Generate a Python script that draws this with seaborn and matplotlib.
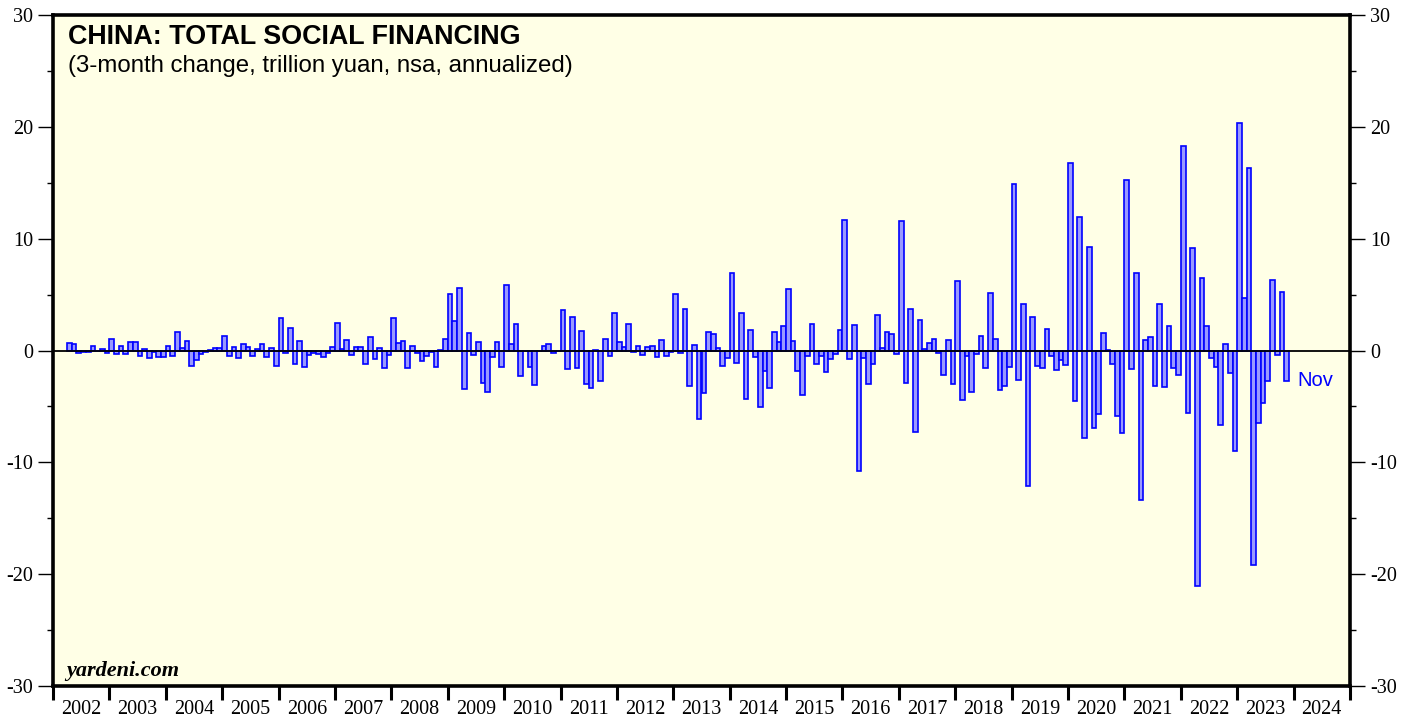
import numpy as np
import pandas as pd
import matplotlib
matplotlib.use("Agg")
import matplotlib.pyplot as plt
from matplotlib.ticker import MultipleLocator, FixedLocator, NullFormatter, FixedFormatter
import seaborn as sns

# ---------------- data (3-month change, trillion yuan, annualized) ----------------
start_year, start_month = 2002, 4   # first bar: Apr 2002
tsf_2002 = [0.69, 0.60, -0.20, -0.15, -0.10, 0.38, -0.05, 0.12, -0.18]
tsf_2003 = [1.04, -0.33, 0.42, -0.30, 0.80, 0.75, -0.50, 0.15, -0.70, -0.10, -0.60, -0.60]
tsf_2004 = [0.40, -0.50, 1.67, 0.25, 0.85, -1.35, -0.87, -0.33, -0.10, 0.03, 0.18, 0.24]
tsf_2005 = [1.34, -0.45, 0.27, -0.66, 0.54, 0.27, -0.50, 0.10, 0.54, -0.60, 0.18, -1.42]
tsf_2006 = [2.93, -0.24, 2.00, -1.20, 0.84, -1.46, -0.42, -0.18, -0.30, -0.54, -0.24, 0.30]
tsf_2007 = [2.42, 0.12, 0.98, -0.36, 0.30, 0.30, -1.22, 1.25, -0.72, 0.20, -1.58, -0.39]
tsf_2008 = [2.90, 0.66, 0.84, -1.55, 0.39, -0.20, -0.93, -0.45, -0.15, -1.46, 0.05, 1.00]
tsf_2009 = [5.07, 2.63, 5.55, -3.43, 1.55, -0.36, 0.78, -2.93, -3.67, -0.54, 0.78, -1.52]
tsf_2010 = [5.85, 0.60, 2.33, -2.27, -0.05, -1.46, -3.10, -0.05, 0.36, 0.55, -0.18, -0.05]
tsf_2011 = [3.58, -1.67, 2.99, -1.58, 1.73, -2.99, -3.34, 0.05, -2.69, 1.00, -0.48, 3.37]
tsf_2012 = [0.75, 0.33, 2.39, -0.10, 0.39, -0.39, 0.30, 0.39, -0.57, 0.96, -0.50, -0.10]
tsf_2013 = [5.04, -0.20, 3.70, -3.16, 0.48, -6.09, -3.79, 1.61, 1.49, 0.18, -1.43, -0.63]
tsf_2014 = [6.96, -1.16, 3.37, -4.30, 1.85, -0.54, -5.01, -1.79, -3.34, 1.64, 0.78, 2.20]
tsf_2015 = [5.49, 0.84, -1.82, -4.00, -0.48, 2.36, -1.22, -0.50, -1.94, -0.78, -0.33, 1.82]
tsf_2016 = [11.67, -0.80, 2.30, -10.80, -0.63, -3.00, -1.22, 3.13, 0.24, 1.61, 1.49, -0.33]
tsf_2017 = [11.58, -2.93, 3.70, -7.31, 2.69, 0.12, 0.66, 1.04, -0.20, -2.15, 0.98, -2.99]
tsf_2018 = [6.20, -4.39, -0.45, -3.67, -0.33, 1.31, -1.55, 5.13, 1.07, -3.55, -3.19, -1.52]
tsf_2019 = [14.93, -2.63, 4.12, -12.09, 2.99, -1.37, -1.55, 1.91, -0.48, -1.70, -0.84, -1.28]
tsf_2020 = [16.78, -4.48, 11.94, -7.82, 9.25, -6.93, -5.67, 1.55, 0.03, -1.19, -5.85, -7.34]
tsf_2021 = [15.22, -1.67, 6.93, -13.37, 0.90, 1.25, -3.16, 4.15, -3.22, 2.15, -1.58, -2.18]
tsf_2022 = [18.30, -5.55, 9.19, -21.04, 6.51, 2.15, -0.63, -1.49, -6.63, 0.54, -1.97, -8.96]
tsf_2023 = [20.36, 4.69, 16.36, -19.16, -6.45, -4.66, -2.75, 6.30, -0.36, 5.22, -2.69]

year_labels = [str(y) for y in range(2002, 2025)]
last_label = "Nov"
title = "CHINA: TOTAL SOCIAL FINANCING"
subtitle = "(3-month change, trillion yuan, nsa, annualized)"
source = "yardeni.com"

values = (tsf_2002 + tsf_2003 + tsf_2004 + tsf_2005 + tsf_2006 + tsf_2007 + tsf_2008 +
          tsf_2009 + tsf_2010 + tsf_2011 + tsf_2012 + tsf_2013 + tsf_2014 + tsf_2015 +
          tsf_2016 + tsf_2017 + tsf_2018 + tsf_2019 + tsf_2020 + tsf_2021 + tsf_2022 + tsf_2023)
month_idx = np.arange(len(values)) + (start_month - 1)
xpos = start_year + (month_idx + 0.5) / 12.0
df = pd.DataFrame({"date": xpos, "tsf": values})

# ---------------- style ----------------
sns.set_theme(style="ticks")
plt.rcParams["font.family"] = ["Liberation Serif", "DejaVu Serif"]
plt.rcParams["axes.unicode_minus"] = False

fig = plt.figure(figsize=(14.18, 7.17), dpi=100)
ax = fig.add_axes([53 / 1418, 1 - 686 / 717, 1297 / 1418, 671 / 717])
ax.set_facecolor("#ffffe6")

sns.barplot(data=df, x="date", y="tsf", native_scale=True, orient="x", width=1.0,
            color="#9999ff", saturation=1, edgecolor="#0000ff", linewidth=1.2,
            errorbar=None, ax=ax, zorder=2)

ax.axhline(0, color="black", lw=1.3, zorder=3)

ax.set_xlim(2002, 2025)
ax.set_ylim(-30, 30)
ax.set_xlabel("")
ax.set_ylabel("")
ax.grid(False)

for s in ax.spines.values():
    s.set_visible(True)
    s.set_linewidth(2.6)
    s.set_color("black")
    s.set_zorder(5)

# y axis ticks on both sides
ax.yaxis.set_major_locator(MultipleLocator(10))
ax.yaxis.set_minor_locator(MultipleLocator(5))
ax.tick_params(axis="y", which="major", left=True, right=True, labelleft=True, labelright=True,
               direction="out", length=11, width=1, pad=3.5, labelsize=14.5, colors="black")
ax.tick_params(axis="y", which="minor", left=True, right=True, direction="out",
               length=4, width=1, colors="black")

# x axis: year boundaries as ticks, labels centred in each year
ax.xaxis.set_major_locator(FixedLocator(np.arange(2002, 2026)))
ax.xaxis.set_major_formatter(NullFormatter())
ax.xaxis.set_minor_locator(FixedLocator(np.arange(2002, 2025) + 0.5))
ax.xaxis.set_minor_formatter(FixedFormatter(year_labels))
ax.tick_params(axis="x", which="major", bottom=True, top=False, direction="out",
               length=10, width=2.2, colors="black")
ax.tick_params(axis="x", which="minor", bottom=True, top=False, length=0, pad=10,
               labelsize=14.5, colors="black")

# texts
ax.text(0.0116, 0.9568, title, transform=ax.transAxes, fontsize=19.4, fontweight="bold",
        family="Liberation Sans", va="baseline", ha="left", color="black", zorder=6)
ax.text(0.0116, 0.915, subtitle, transform=ax.transAxes, fontsize=17.3,
        family="Liberation Sans", va="baseline", ha="left", color="black", zorder=6)
ax.text(0.010, 0.0149, source, transform=ax.transAxes, fontsize=16, fontweight="bold",
        fontstyle="italic", family="Liberation Serif", va="baseline", ha="left",
        color="black", zorder=6)
ax.annotate(last_label, xy=(xpos[-1], values[-1]), xytext=(8, 0), textcoords="offset points",
            ha="left", va="center", color="#0000ff", fontsize=14.5,
            family="Liberation Sans", zorder=6)

fig.savefig("out.png", dpi=100, facecolor="white")
